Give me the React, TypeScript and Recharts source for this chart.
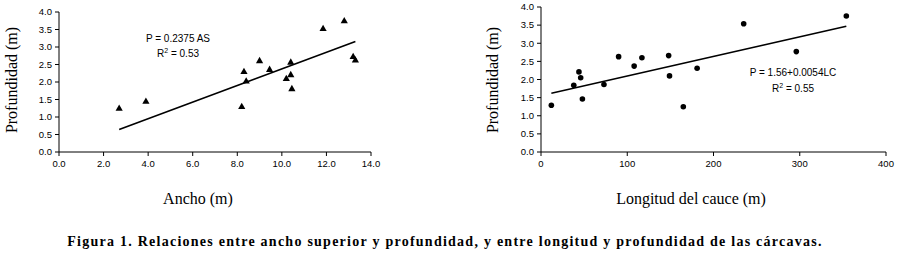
import React from 'react';
import { ScatterChart, Scatter, XAxis, YAxis } from 'recharts';

// Left chart: Ancho (m) vs Profundidad (m)
const anchoX = [2.7, 3.9, 8.2, 8.3, 8.4, 9.0, 9.45, 10.2, 10.4, 10.4, 10.45, 11.85, 12.8, 13.2, 13.3];
const anchoY = [1.25, 1.45, 1.3, 2.3, 2.03, 2.61, 2.36, 2.1, 2.57, 2.21, 1.81, 3.53, 3.75, 2.73, 2.63];
const anchoTrendX = [2.7, 13.3];
const anchoTrendY = [0.64, 3.16];
const anchoTicks = [0, 2, 4, 6, 8, 10, 12, 14];

// Right chart: Longitud del cauce (m) vs Profundidad (m)
const longX = [12, 38, 44, 46, 48, 73, 90, 108, 117, 148, 149, 165, 181, 235, 296, 354];
const longY = [1.29, 1.84, 2.21, 2.05, 1.46, 1.86, 2.63, 2.37, 2.6, 2.66, 2.1, 1.25, 2.31, 3.54, 2.77, 3.75];
const longTrendX = [12, 354];
const longTrendY = [1.62, 3.47];
const longTicks = [0, 100, 200, 300, 400];

const depthTicks = [0, 0.5, 1, 1.5, 2, 2.5, 3, 3.5, 4];

const zip = (xs: number[], ys: number[]) => xs.map((x, i) => ({ x, y: ys[i] }));

const anchoData = zip(anchoX, anchoY);
const anchoTrend = zip(anchoTrendX, anchoTrendY);
const longData = zip(longX, longY);
const longTrend = zip(longTrendX, longTrendY);

const tickFont = { fontFamily: '"Liberation Sans", Arial, sans-serif', fontSize: 9.5, fill: '#000' };
const serif = '"Liberation Serif", "Times New Roman", serif';

const Triangle = (props: any) => {
  const { cx, cy } = props;
  if (cx == null || cy == null) return <g />;
  return <path d={`M${cx},${cy - 3.8} L${cx + 3.6},${cy + 2.6} L${cx - 3.6},${cy + 2.6} Z`} fill="#000" />;
};

const Dot = (props: any) => {
  const { cx, cy } = props;
  if (cx == null || cy == null) return <g />;
  return <circle cx={cx} cy={cy} r={2.8} fill="#000" />;
};

const NoShape = () => <g />;

const abs = (left: number, top: number): React.CSSProperties => ({ position: 'absolute', left, top });

export default function App() {
  return (
    <div style={{ position: 'absolute', left: 0, top: 0, width: 902, height: 255, background: '#fff', overflow: 'hidden' }}>
      <div style={abs(0, 0)}>
        <ScatterChart width={400} height={200} margin={{ top: 12, right: 29, bottom: 28, left: 0 }}>
          <XAxis
            type="number"
            dataKey="x"
            domain={[0, 14]}
            ticks={anchoTicks}
            interval={0}
            tickFormatter={(v: number) => v.toFixed(1)}
            height={20}
            tick={tickFont}
            tickSize={4}
            tickMargin={4}
            stroke="#000"
            allowDataOverflow
          />
          <YAxis
            type="number"
            dataKey="y"
            domain={[0, 4]}
            ticks={depthTicks}
            interval={0}
            tickFormatter={(v: number) => v.toFixed(1)}
            width={59}
            tick={tickFont}
            tickSize={4}
            tickMargin={3}
            stroke="#000"
            allowDataOverflow
          />
          <Scatter data={anchoTrend} line={{ stroke: '#000', strokeWidth: 1.6 }} shape={NoShape} isAnimationActive={false} />
          <Scatter data={anchoData} shape={Triangle} isAnimationActive={false} />
        </ScatterChart>
      </div>

      <div style={abs(470, 0)}>
        <ScatterChart width={432} height={200} margin={{ top: 7, right: 16, bottom: 28, left: 0 }}>
          <XAxis
            type="number"
            dataKey="x"
            domain={[0, 400]}
            ticks={longTicks}
            interval={0}
            height={20}
            tick={tickFont}
            tickSize={4}
            tickMargin={4}
            stroke="#000"
            allowDataOverflow
          />
          <YAxis
            type="number"
            dataKey="y"
            domain={[0, 4]}
            ticks={depthTicks}
            interval={0}
            tickFormatter={(v: number) => v.toFixed(1)}
            width={71}
            tick={tickFont}
            tickSize={4}
            tickMargin={3}
            stroke="#000"
            allowDataOverflow
          />
          <Scatter data={longTrend} line={{ stroke: '#000', strokeWidth: 1.6 }} shape={NoShape} isAnimationActive={false} />
          <Scatter data={longData} shape={Dot} isAnimationActive={false} />
        </ScatterChart>
      </div>

      {/* Equations */}
      <div style={{ ...abs(118, 31), width: 120, textAlign: 'center', fontFamily: tickFont.fontFamily, fontSize: 10, lineHeight: '15px' }}>
        <div>P = 0.2375 AS</div>
        <div>R<sup style={{ fontSize: 7, verticalAlign: 'top', lineHeight: '10px' }}>2</sup> = 0.53</div>
      </div>
      <div style={{ ...abs(733, 65), width: 120, textAlign: 'center', fontFamily: tickFont.fontFamily, fontSize: 10, lineHeight: '16px' }}>
        <div>P = 1.56+0.0054LC</div>
        <div>R<sup style={{ fontSize: 7, verticalAlign: 'top', lineHeight: '10px' }}>2</sup> = 0.55</div>
      </div>

      {/* Axis titles */}
      <div style={{ ...abs(98, 190), width: 200, textAlign: 'center', fontFamily: serif, fontSize: 16, lineHeight: '18px' }}>Ancho (m)</div>
      <div style={{ ...abs(591, 190), width: 200, textAlign: 'center', fontFamily: serif, fontSize: 16, lineHeight: '18px' }}>Longitud del cauce (m)</div>
      <div style={{ ...abs(-88, 71), width: 200, textAlign: 'center', fontFamily: serif, fontSize: 16, lineHeight: '18px', transform: 'rotate(-90deg)' }}>Profundidad (m)</div>
      <div style={{ ...abs(393, 71), width: 200, textAlign: 'center', fontFamily: serif, fontSize: 16, lineHeight: '18px', transform: 'rotate(-90deg)' }}>Profundidad (m)</div>

      {/* Caption */}
      <div style={{ ...abs(0, 233), width: 890, textAlign: 'center', fontFamily: serif, fontSize: 14, fontWeight: 'bold', lineHeight: '17px', letterSpacing: 1.25, whiteSpace: 'nowrap' }}>
        Figura 1. Relaciones entre ancho superior y profundidad, y entre longitud y profundidad de las cárcavas.
      </div>
    </div>
  );
}
